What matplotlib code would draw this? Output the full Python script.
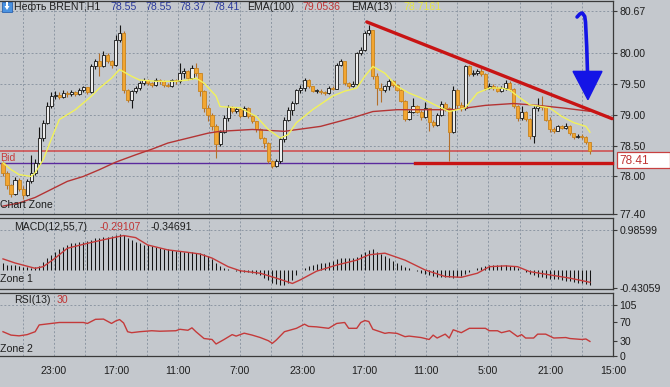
import matplotlib
matplotlib.use('Agg')
import matplotlib.pyplot as plt
from matplotlib.patches import Polygon, Rectangle
import numpy as np

# ---------------- data ----------------
first_open = 78.22
closes = [78.06, 77.86, 77.72, 77.95, 77.80, 77.70, 77.93, 78.06, 78.22, 78.62,
          78.87, 79.14, 79.30, 79.32, 79.29, 79.35, 79.33, 79.36, 79.34, 79.40,
          79.44, 79.37, 79.78, 79.86, 79.79, 79.97, 79.86, 79.80, 80.21, 80.32,
          79.40, 79.24, 79.38, 79.43, 79.51, 79.56, 79.51, 79.48, 79.56, 79.54,
          79.48, 79.47, 79.56, 79.54, 79.67, 79.70, 79.59, 79.75, 79.67, 79.38,
          79.11, 79.00, 78.81, 78.52, 78.72, 78.95, 79.12, 79.06, 79.09, 78.98,
          79.10, 78.97, 78.89, 78.76, 78.62, 78.54, 78.25, 78.17, 78.25, 78.60,
          78.92, 79.08, 79.19, 79.40, 79.43, 79.56, 79.46, 79.38, 79.39, 79.37,
          79.35, 79.43, 79.42, 79.81, 79.86, 79.51, 79.46, 79.50, 79.99, 80.05,
          80.32, 80.37, 79.62, 79.43, 79.40, 79.46, 79.54, 79.48, 79.40, 79.22,
          78.93, 79.05, 79.14, 79.05, 78.96, 79.10, 78.88, 78.84, 79.00, 79.18,
          79.10, 78.72, 79.40, 79.16, 79.10, 79.78, 79.66, 79.68, 79.70, 79.66,
          79.43, 79.47, 79.43, 79.38, 79.43, 79.52, 79.41, 79.14, 78.95, 79.05,
          78.93, 78.65, 79.10, 79.14, 79.12, 78.92, 78.76, 78.74, 78.81, 78.79,
          78.81, 78.70, 78.63, 78.66, 78.64, 78.55, 78.41]
highs = [78.25, 78.08, 77.88, 77.99, 77.97, 77.84, 77.96, 78.35, 78.28, 78.80,
         78.92, 79.20, 79.36, 79.38, 79.36, 79.40, 79.38, 79.40, 79.39, 79.43,
         79.47, 79.45, 79.82, 79.90, 80.00, 80.03, 80.00, 79.88, 80.29, 80.45,
         80.36, 79.42, 79.40, 79.46, 79.55, 79.60, 79.58, 79.53, 79.60, 79.58,
         79.56, 79.52, 79.58, 79.58, 79.83, 79.75, 79.72, 79.80, 79.83, 79.68,
         79.40, 79.15, 79.02, 78.85, 78.75, 79.00, 79.16, 79.14, 79.12, 79.10,
         79.14, 79.12, 79.00, 78.90, 78.78, 78.64, 78.56, 78.27, 78.28, 78.64,
         78.96, 79.12, 79.22, 79.42, 79.48, 79.60, 79.58, 79.47, 79.42, 79.41,
         79.38, 79.46, 79.46, 79.84, 79.90, 79.84, 79.53, 79.54, 80.02, 80.10,
         80.36, 80.45, 80.37, 79.67, 79.52, 79.48, 79.57, 79.56, 79.50, 79.42,
         79.24, 79.08, 79.27, 79.16, 79.08, 79.21, 79.08, 78.92, 79.03, 79.22,
         79.20, 79.12, 79.46, 79.42, 79.20, 79.81, 79.80, 79.72, 79.74, 79.76,
         79.68, 79.51, 79.49, 79.46, 79.46, 79.56, 79.54, 79.43, 79.16, 79.14,
         79.06, 78.95, 79.14, 79.27, 79.30, 79.14, 78.96, 78.80, 78.84, 78.83,
         78.86, 78.84, 78.71, 78.69, 78.68, 78.66, 78.55]
lows = [78.00, 77.80, 77.66, 77.70, 77.76, 77.63, 77.68, 77.90, 78.02, 78.18,
        78.58, 78.85, 79.10, 79.26, 79.25, 79.27, 79.28, 79.30, 79.30, 79.32,
        79.36, 79.34, 79.35, 79.74, 79.62, 79.77, 79.83, 79.76, 79.78, 80.18,
        79.35, 79.20, 79.11, 79.35, 79.40, 79.48, 79.48, 79.45, 79.46, 79.50,
        79.45, 79.44, 79.45, 79.50, 79.52, 79.60, 79.56, 79.58, 79.62, 79.30,
        79.05, 78.90, 78.75, 78.30, 78.49, 78.70, 78.90, 79.02, 79.03, 78.95,
        78.97, 78.94, 78.86, 78.72, 78.60, 78.46, 78.22, 78.14, 78.15, 78.22,
        78.55, 78.90, 79.00, 79.18, 79.35, 79.38, 79.43, 79.36, 79.35, 79.34,
        79.32, 79.33, 79.40, 79.41, 79.78, 79.48, 79.43, 79.44, 79.48, 79.96,
        80.03, 80.29, 79.58, 79.16, 79.21, 79.36, 79.40, 79.44, 79.38, 79.20,
        78.90, 78.91, 79.02, 79.02, 78.92, 78.94, 78.73, 78.80, 78.82, 78.98,
        79.06, 78.25, 78.70, 79.10, 79.06, 79.08, 79.62, 79.63, 79.64, 79.63,
        79.40, 79.42, 79.40, 79.36, 79.36, 79.40, 79.38, 79.10, 78.90, 78.92,
        78.90, 78.60, 78.54, 79.06, 79.08, 78.90, 78.72, 78.70, 78.73, 78.76,
        78.77, 78.67, 78.60, 78.62, 78.61, 78.52, 78.37]

ema13_bars = [0, 2, 4, 7, 8, 10, 12, 14, 18, 22, 24, 27, 29, 32, 34, 38, 43, 46, 48, 50,
              53, 54, 59, 63, 66, 69, 71, 73, 77, 82, 85, 88, 90, 92, 95, 98, 101, 104,
              108, 111, 113, 115, 118, 121, 124, 126, 128, 131, 133, 136, 139, 142, 145, 146]
ema13_vals = [78.22, 78.11, 78.03, 78.00, 78.06, 78.27, 78.60, 78.92, 79.08, 79.30,
              79.43, 79.59, 79.73, 79.62, 79.56, 79.54, 79.54, 79.56, 79.59, 79.51,
              79.30, 79.13, 79.11, 78.97, 78.76, 78.62, 78.68, 78.87, 79.08, 79.30,
              79.38, 79.43, 79.62, 79.78, 79.67, 79.46, 79.35, 79.27, 79.14, 79.05,
              79.08, 79.11, 79.35, 79.43, 79.43, 79.40, 79.30, 79.16, 79.14, 79.11,
              78.97, 78.87, 78.81, 78.716]
ema100_bars = [0, 4, 8, 12, 16, 20, 24, 28, 33, 37, 41, 46, 51, 54, 62, 70, 79, 87,
               92, 98, 104, 112, 120, 127, 133, 139, 146]
ema100_vals = [77.52, 77.57, 77.66, 77.79, 77.92, 78.00, 78.11, 78.23, 78.35, 78.44,
               78.54, 78.62, 78.70, 78.73, 78.76, 78.73, 78.81, 78.95, 79.05, 79.08,
               79.08, 79.08, 79.15, 79.18, 79.15, 79.11, 79.054]

macd_hist = [0.17, 0.14, 0.13, 0.12, 0.10, 0.08, 0.07, 0.06, 0.08, 0.10,
             0.20, 0.30, 0.38, 0.45, 0.52, 0.58, 0.63, 0.66, 0.68, 0.69,
             0.70, 0.71, 0.75, 0.78, 0.80, 0.81, 0.82, 0.84, 0.87, 0.89,
             0.86, 0.80, 0.74, 0.70, 0.66, 0.63, 0.61, 0.59, 0.57, 0.55,
             0.53, 0.51, 0.49, 0.48, 0.47, 0.46, 0.45, 0.44, 0.43, 0.42,
             0.40, 0.35, 0.28, 0.18, 0.10, 0.05, 0.03, 0.02, -0.02, -0.03,
             -0.04, -0.05, -0.06, -0.08, -0.12, -0.18, -0.24, -0.30, -0.34, -0.36,
             -0.35, -0.32, -0.24, -0.12, 0.02, 0.06, 0.10, 0.13, 0.15, 0.17,
             0.19, 0.21, 0.24, 0.27, 0.29, 0.30, 0.30, 0.31, 0.33, 0.40,
             0.45, 0.50, 0.51, 0.46, 0.40, 0.36, 0.30, 0.24, 0.18, 0.13,
             0.09, 0.05, 0.02, -0.02, -0.06, -0.09, -0.12, -0.14, -0.15, -0.16,
             -0.17, -0.17, -0.18, -0.16, -0.14, -0.10, -0.05, 0.00, 0.05, 0.09,
             0.11, 0.12, 0.13, 0.13, 0.12, 0.12, 0.11, 0.10, 0.05, 0.00,
             -0.05, -0.09, -0.12, -0.15, -0.17, -0.18, -0.20, -0.21, -0.22, -0.24,
             -0.25, -0.27, -0.29, -0.31, -0.32, -0.33, -0.347]
signal_bars = [0, 3, 8, 10, 13, 16, 21, 26, 30, 33, 36, 41, 46, 49, 52, 56, 59, 64, 68,
               72, 74, 78, 83, 88, 91, 95, 100, 105, 110, 114, 118, 121, 125, 128, 131,
               136, 141, 146]
signal_vals = [0.28, 0.18, 0.05, 0.09, 0.30, 0.54, 0.66, 0.77, 0.85, 0.80, 0.62, 0.50,
               0.44, 0.40, 0.30, 0.09, -0.01, -0.07, -0.19, -0.32, -0.23, -0.02, 0.13,
               0.25, 0.38, 0.42, 0.25, 0.01, -0.15, -0.17, -0.07, 0.09, 0.11, 0.09,
               -0.03, -0.11, -0.19, -0.291]

rsi_bars = [0, 2, 4, 6, 8, 9, 12, 14, 20, 21, 23, 25, 27, 28, 29, 30, 31, 32, 34, 37,
            39, 43, 44, 46, 47, 48, 50, 52, 53, 55, 57, 58, 60, 62, 64, 66, 67, 68, 70,
            73, 75, 76, 78, 81, 82, 83, 85, 86, 88, 89, 90, 91, 92, 95, 96, 98, 100,
            101, 104, 106, 107, 108, 110, 111, 112, 114, 116, 120, 121, 123, 124, 126,
            128, 129, 130, 132, 133, 135, 137, 140, 141, 144, 145, 146]
rsi_vals = [50, 43, 41.5, 44, 50, 64, 67, 69, 69, 67, 75.5, 76, 67, 72, 75, 68, 50, 48,
            50, 52, 51, 52, 55, 53, 58, 50, 36, 34, 24.7, 34, 44, 41, 47, 43, 38, 31.5,
            26, 33, 50, 57, 65.5, 61, 60, 57, 62, 67, 69, 57, 57, 69, 73, 71, 55, 46.6,
            48, 46.6, 39.8, 41, 38, 34, 43, 37, 45, 37, 54, 48, 57, 57, 52, 52, 48, 52,
            40, 44, 37, 37, 45, 45, 37, 38, 36, 34, 35, 30]

time_tick_bars = [12.7, 28.1, 43.5, 58.9, 74.4, 89.8, 105.2, 120.6, 136.3, 151.7]
time_labels = ['23:00', '17:00', '11:00', '7:00', '23:00', '17:00', '11:00', '5:00', '21:00', '15:00']
grid_bars = [5.0, 12.7, 20.4, 28.1, 35.8, 43.5, 51.2, 58.9, 66.7, 74.4, 82.1, 89.8,
             97.5, 105.2, 112.9, 120.6, 128.5, 136.3, 144.0]

price_ticks = [80.67, 80.00, 79.50, 79.00, 78.50, 78.00, 77.40]
macd_ticks = [0.98599, -0.43059]
rsi_ticks = [105, 70, 30, 0]

bid_price = 78.41
ask_level = 78.221
support_level = 78.22
trend_start = (90.5, 80.50)
trend_end = (151.5, 78.935)

# ---------------- figure ----------------
W, H = 670, 387
BG = '#c4c8cd'
GRID = '#8d97a3'
SPINE = '#3a3a3a'
FONT = 'Liberation Sans'
plt.rcParams['font.family'] = [FONT, 'DejaVu Sans']

fig = plt.figure(figsize=(W / 100, H / 100), dpi=100)
fig.patch.set_facecolor(BG)


def fx(px):
    return px / W


def fy(py):
    return 1 - py / H


XL = (-0.746, 151.74)


def make_ax(top, bottom, ylim, yticks, fmt):
    ax = fig.add_axes([0, fy(bottom), fx(613), (bottom - top) / H])
    ax.set_facecolor(BG)
    ax.set_xlim(*XL)
    ax.set_ylim(*ylim)
    for s in ['top', 'bottom', 'right']:
        ax.spines[s].set_color(SPINE)
        ax.spines[s].set_linewidth(0.9)
    ax.spines['left'].set_visible(False)
    ax.yaxis.tick_right()
    ax.set_yticks(yticks)
    ax.set_yticklabels([fmt(v) for v in yticks])
    ax.tick_params(axis='y', direction='out', length=3, width=0.8, color=SPINE,
                   labelsize=7.6, labelcolor='#1e1e1e', pad=1.5)
    ax.set_xticks([])
    for gb in grid_bars:
        ax.axvline(gb, color=GRID, lw=0.7, ls=(0, (2, 2)), zorder=0.5)
    return ax


ax = make_ax(1, 213.5, (77.411, 80.839), price_ticks, lambda v: f'{v:.2f}')
axm = make_ax(218, 288.5, (-0.443, 1.279), macd_ticks, lambda v: f'{v:.5f}')
axr = make_ax(293, 356, (0, 129.7), rsi_ticks, lambda v: f'{v:d}')

for pv in price_ticks[:-1]:
    ax.axhline(pv, color=GRID, lw=0.7, ls=(0, (2, 2)), zorder=0.5)
axm.axhline(macd_ticks[0], color=GRID, lw=0.7, ls=(0, (2, 2)), zorder=0.5)
axr.axhline(rsi_ticks[0], color=GRID, lw=0.7, ls=(0, (2, 2)), zorder=0.5)

# ---------------- candles ----------------
c = np.array(closes)
o = np.concatenate([[first_open], c[:-1]])
h = np.array(highs)
l = np.array(lows)
x = np.arange(len(c))
up = c >= o
ax.vlines(x[up], l[up], h[up], color='#141414', lw=0.8, zorder=3)
ax.vlines(x[~up], l[~up], h[~up], color='#b36f2a', lw=0.8, zorder=3)
bb = np.minimum(o, c)
bh = np.maximum(np.abs(c - o), 0.012)
ax.bar(x[up], bh[up], bottom=bb[up], width=0.78, color='#ededed',
       edgecolor='#141414', lw=0.6, zorder=4)
ax.bar(x[~up], bh[~up], bottom=bb[~up], width=0.78, color='#f2a632',
       edgecolor='#c7831f', lw=0.6, zorder=4)

ax.plot(ema100_bars, ema100_vals, color='#b43434', lw=1.0, zorder=5)
ax.plot(ema13_bars, ema13_vals, color='#f2f25a', lw=1.0, zorder=5)

ax.axhline(bid_price, color='#d04848', lw=1.1, zorder=2)
ax.axhline(ask_level, color='#5a2a9e', lw=1.0, zorder=2)

ax.plot([trend_start[0], trend_end[0]], [trend_start[1], trend_end[1]],
        color='#c81414', lw=2.4, solid_capstyle='round', zorder=6, clip_on=False)
ax.plot([102.5, 151.5], [support_level, support_level], color='#c81414', lw=2.4,
        zorder=6, clip_on=False)

# blue arrow annotation
ax.plot([142.8, 143.5, 144.1, 144.7, 144.9, 145.2, 145.4],
        [80.58, 80.63, 80.645, 80.59, 80.50, 80.10, 79.68],
        color='#1414e6', lw=2.6, solid_capstyle='round', zorder=7)
ax.add_patch(Polygon([(141.8, 79.70), (149.0, 79.70), (145.5, 79.242)],
                     closed=True, facecolor='#1414e6', edgecolor='#1414e6',
                     zorder=7))

# ---------------- MACD ----------------
xm = np.arange(len(macd_hist))
axm.vlines(xm, 0, macd_hist, color='#141414', lw=0.75, zorder=3)
axm.plot(signal_bars, signal_vals, color='#c43a3a', lw=1.0, zorder=4)

# ---------------- RSI ----------------
axr.plot(rsi_bars, rsi_vals, color='#c43a3a', lw=1.0, zorder=4)
axr.set_xticks(time_tick_bars)
axr.set_xticklabels(time_labels)
axr.tick_params(axis='x', length=0, labelsize=7.6, labelcolor='#1e1e1e', pad=7)

# ---------------- texts ----------------
def t(px, py, s, color='#1e1e1e', size=7.6, **kw):
    fig.text(fx(px), fy(py), s, color=color, fontsize=size, va='center',
             ha='left', **kw)


fig.patches.append(Rectangle((fx(2), fy(12)), 10 / W, 10 / H, transform=fig.transFigure,
                             facecolor='#4a92e0', edgecolor='#2a62b0', lw=0.6))
fig.patches.append(Polygon([(fx(4.5), fy(6)), (fx(9.5), fy(6)), (fx(7), fy(10))],
                           closed=True, transform=fig.transFigure,
                           facecolor='white', edgecolor='none'))
fig.patches.append(Rectangle((fx(6), fy(6)), 2 / W, 3.5 / H, transform=fig.transFigure,
                             facecolor='white', edgecolor='none'))

t(14, 7, 'Нефть BRENT,H1')
BLUE = '#2b3a9c'
t(110, 7, '78.55', BLUE)
t(145, 7, '78.55', BLUE)
t(179, 7, '78.37', BLUE)
t(213, 7, '78.41', BLUE)
t(247, 7, 'EMA(100)')
t(302, 7, '79.0536', '#c03434')
t(351, 7, 'EMA(13)')
t(403, 7, '78.7161', '#e6e646')

t(14, 226.5, 'MACD(12,55,7)')
t(100, 226.5, '-0.29107', '#c03434')
t(151, 226.5, '-0.34691')
t(14, 300, 'RSI(13)')
t(57, 300, '30', '#c03434')

t(0.5, 205, 'Chart Zone')
t(0.5, 279, 'Zone 1')
t(0.5, 349.5, 'Zone 2')
t(0.5, 157.5, 'Bid', '#c83c3c')

fig.patches.append(Rectangle((fx(616.5), fy(168)), 53 / W, 16 / H, transform=fig.transFigure,
                             facecolor='white', edgecolor='#c84040', lw=0.9, zorder=10))
t(619, 160.5, '78.41', '#c03434', size=8.5, zorder=11)

fig.savefig('out.png', dpi=100, facecolor=BG)
